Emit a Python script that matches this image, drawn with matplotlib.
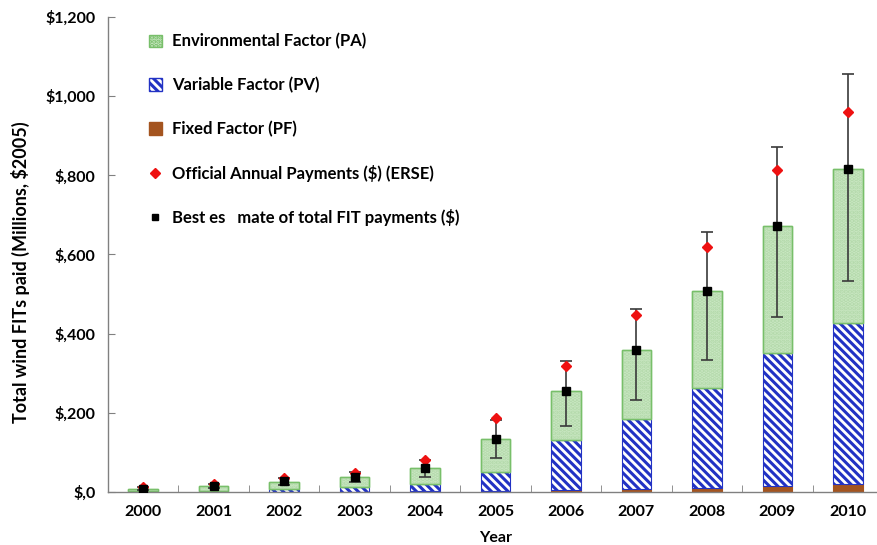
"""Stacked bar chart of wind feed-in tariff payments by year."""

import numpy as np
import matplotlib.pyplot as plt
from matplotlib.lines import Line2D
from matplotlib.patches import Patch

plt.rcParams["text.parse_math"] = False
plt.rcParams["font.family"] = ["Lato", "DejaVu Sans"]
plt.rcParams["font.weight"] = "bold"
plt.rcParams["hatch.linewidth"] = 2.2

years = ["2000", "2001", "2002", "2003", "2004", "2005",
         "2006", "2007", "2008", "2009", "2010"]

# components in millions of 2005 dollars
fixed_pf = [0.3, 0.5, 0.8, 1, 1.5, 2, 4, 7, 10, 15, 21]
variable_pv = [2, 3, 6, 11, 18, 49, 128, 178, 253, 337, 407]
environmental_pa = [6, 12, 18, 25, 40, 83, 124, 174, 246, 319, 387]

official_erse = [12, 20, 35, 48, 81, 187, 319, 446, 618, 813, 960]
best_estimate = [8, 15, 27, 37, 60, 134, 256, 359, 509, 671, 815]
err_low = [5, 10, 18, 26, 37, 86, 167, 233, 334, 441, 534]
err_high = [12, 20, 35, 50, 82, 182, 332, 463, 658, 871, 1056]

ytick_vals = [0, 200, 400, 600, 800, 1000, 1200]
ytick_labels = ["$,0", "$,200", "$,400", "$,600", "$,800", "$1,000", "$1,200"]

green_face = "#c9e7c2"
green_edge = "#78bf6a"
blue = "#2232c4"
brown = "#a4541f"
err_col = "#3a3a3a"

x = np.arange(len(years))
pf = np.array(fixed_pf)
pv = np.array(variable_pv)
pa = np.array(environmental_pa)
best = np.array(best_estimate)
width = 0.42

fig = plt.figure(figsize=(8.77, 5.45), dpi=100)
ax = fig.add_axes([108 / 877, 53 / 545, 775 / 877, 475 / 545])

ax.bar(x, pf, width, color=brown, edgecolor=brown, linewidth=0.8, zorder=2)
ax.bar(x, pv, width, bottom=pf, facecolor="white", edgecolor=blue,
       hatch="\\\\\\\\", linewidth=0.8, zorder=2)
ax.bar(x, pa, width, bottom=pf + pv, facecolor=green_face,
       edgecolor=green_edge, linewidth=1.0, zorder=2)
# faint dotted texture on the environmental segment
ax.bar(x, pa, width, bottom=pf + pv, facecolor="none",
       edgecolor="#b3d9aa", hatch="....", linewidth=0, zorder=2)
ax.bar(x, pa, width, bottom=pf + pv, facecolor="none",
       edgecolor=green_edge, linewidth=1.0, zorder=2)

yerr = np.vstack([best - np.array(err_low), np.array(err_high) - best])
ax.errorbar(x, best, yerr=yerr, fmt="none", ecolor=err_col, elinewidth=1.2,
            capsize=4, capthick=1.2, zorder=3)
ax.plot(x, official_erse, linestyle="none", marker="D", markersize=5.5,
        color="#ee1111", zorder=4)
ax.plot(x, best, linestyle="none", marker="s", markersize=6,
        color="black", zorder=5)

ax.set_xlim(-0.5, 10.5)
ax.set_ylim(0, 1200)
ax.set_xticks(x)
ax.set_xticklabels(years, fontsize=11.5, fontweight="bold")
ax.set_xticks(x[:-1] + 0.5, minor=True)
ax.tick_params(axis="x", which="major", length=0, pad=9)
ax.tick_params(axis="x", which="minor", direction="in", length=5,
               color="#808080")
ax.set_yticks(ytick_vals)
ax.set_yticklabels(ytick_labels, fontsize=11.5, fontweight="bold")
ax.tick_params(axis="y", direction="in", length=5, color="#808080", pad=9)

for side in ("top", "right"):
    ax.spines[side].set_visible(False)
for side in ("left", "bottom"):
    ax.spines[side].set_color("#808080")
    ax.spines[side].set_linewidth(1.0)

ax.set_xlabel("Year", fontsize=11.5, fontweight="bold", labelpad=9)
ax.set_ylabel("Total wind FITs paid (Millions, $2005)", fontsize=13,
              fontweight="bold")
ax.yaxis.set_label_coords(-0.10, 0.462)

handles = [
    Patch(facecolor=green_face, edgecolor=green_edge, hatch="...."),
    Patch(facecolor="white", edgecolor=blue, hatch="\\\\\\\\"),
    Patch(facecolor=brown, edgecolor=brown),
    Line2D([], [], linestyle="none", marker="D", markersize=5,
           color="#ee1111"),
    Line2D([], [], linestyle="none", marker="s", markersize=5,
           color="black"),
]
labels = [
    "Environmental Factor (PA)",
    "Variable Factor (PV)",
    "Fixed Factor (PF)",
    "Official Annual Payments ($) (ERSE)",
    "Best es   mate of total FIT payments ($)",
]
ax.legend(handles, labels, loc="upper left", bbox_to_anchor=(0.033, 0.997),
          frameon=False, labelspacing=1.65,
          handlelength=0.8, handleheight=0.8, handletextpad=0.6,
          prop={"weight": "bold", "size": 12})

fig.savefig("out.png", dpi=100)
